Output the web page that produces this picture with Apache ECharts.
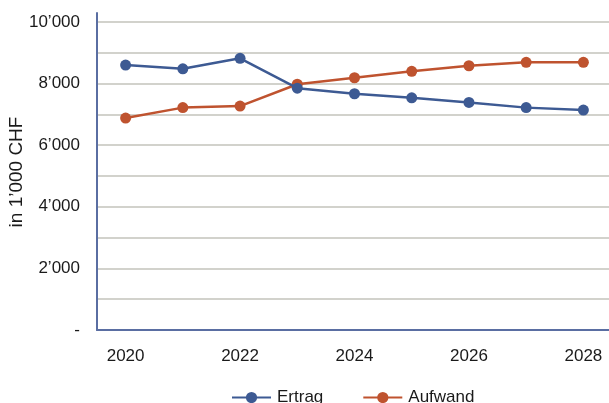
<!DOCTYPE html>
<html><head><meta charset="utf-8">
<script src="https://cdn.jsdelivr.net/npm/echarts@6/dist/echarts.min.js"></script>
<style>html,body{margin:0;padding:0;background:#fff}#c{width:609px;height:403px}</style>
</head><body><div id="c"></div>
<script>
var years = ['2020','2021','2022','2023','2024','2025','2026','2027','2028'];
var ertrag = [8600, 8480, 8820, 7850, 7670, 7540, 7390, 7220, 7140];
var aufwand = [6880, 7220, 7270, 7980, 8190, 8400, 8580, 8690, 8690];
var seriesNames = ['Ertrag', 'Aufwand'];
var yAxisName = 'in 1\u2019000 CHF';

function fmt(v){
  if (v === 0) return '-';
  if (v % 2000 !== 0) return '';
  var s = String(v);
  return s.length > 3 ? s.slice(0, s.length-3) + '\u2019' + s.slice(-3) : s;
}
var FONT = '"Liberation Sans", Arial, sans-serif';
var chart = echarts.init(document.getElementById('c'), null, {renderer:'canvas'});
chart.setOption({
  animation: false,
  textStyle: {fontFamily: FONT},
  legend: {
    data: seriesNames,
    left: 226, top: 384,
    itemWidth: 39, itemHeight: 14, itemGap: 39,
    textStyle: {fontSize: 17, color: '#1a1a1a', fontFamily: FONT, padding: [0,0,0,1]}
  },
  grid: [
    {left: 97, top: 22, width: 515, height: 308, containLabel: false, outerBoundsMode: 'none'},
    {left: 97, top: 13, width: 515, height: 317, containLabel: false, outerBoundsMode: 'none'}
  ],
  xAxis: [
    {type: 'category', data: years, gridIndex: 0, boundaryGap: true,
     axisLine: {show: true, lineStyle: {color: '#5a6ea2', width: 2}},
     axisTick: {show: false},
     axisLabel: {fontSize: 17, color: '#1a1a1a', margin: 18, interval: 1, fontFamily: FONT}},
    {type: 'category', data: years, gridIndex: 1, show: false}
  ],
  yAxis: [
    {type: 'value', gridIndex: 0, min: 0, max: 10000, interval: 1000,
     name: yAxisName, nameLocation: 'middle', nameRotate: 90, nameGap: 71,
     nameMoveOverlap: false,
     nameTextStyle: {fontSize: 19, color: '#1a1a1a', fontFamily: FONT, padding: [0,0,0,8]},
     axisLine: {show: false}, axisTick: {show: false},
     axisLabel: {fontSize: 17, color: '#1a1a1a', margin: 17, formatter: fmt, fontFamily: FONT},
     splitLine: {show: true, lineStyle: {color: '#d2d2cc', width: 2}}},
    {type: 'value', gridIndex: 1, min: 0, max: 10000,
     axisLine: {show: true, lineStyle: {color: '#5a6ea2', width: 2}},
     axisTick: {show: false}, axisLabel: {show: false}, splitLine: {show: false}}
  ],
  series: [
    {name: seriesNames[0], type: 'line', data: ertrag, xAxisIndex: 0, yAxisIndex: 0,
     symbol: 'circle', symbolSize: 11, color: '#3d5a93',
     lineStyle: {width: 2.5, color: '#3d5a93'}, itemStyle: {color: '#3d5a93'}, z: 3},
    {name: seriesNames[1], type: 'line', data: aufwand, xAxisIndex: 0, yAxisIndex: 0,
     symbol: 'circle', symbolSize: 11, color: '#bf532f',
     lineStyle: {width: 2.5, color: '#bf532f'}, itemStyle: {color: '#bf532f'}, z: 2}
  ]
});
</script></body></html>
